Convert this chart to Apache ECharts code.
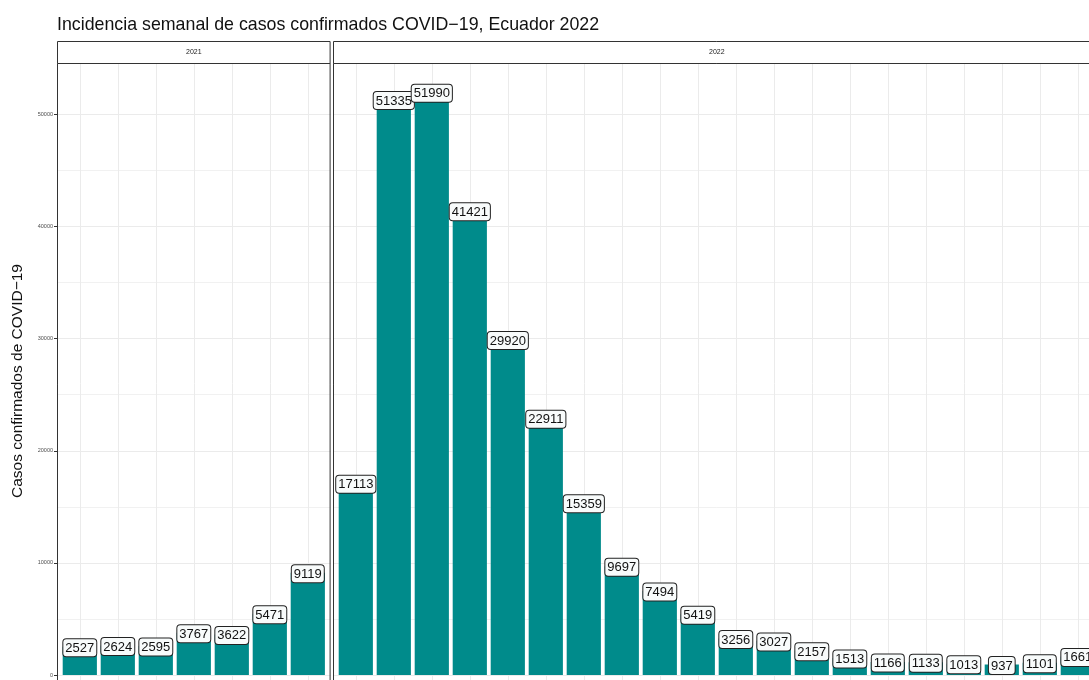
<!DOCTYPE html>
<html><head><meta charset="utf-8">
<script src="https://cdn.jsdelivr.net/npm/echarts@6/dist/echarts.min.js"></script>
<style>html,body{margin:0;padding:0;overflow:hidden;background:#fff}#c{width:1100px;height:710px}</style>
</head><body><div id="c"></div>
<script>
// ---- data ----
const chartTitle = 'Incidencia semanal de casos confirmados COVID\u221219, Ecuador 2022';
const yTitle = 'Casos confirmados de COVID\u221219';
const panelNames = ['2021', '2022'];
const weeks2021 = ['46', '47', '48', '49', '50', '51', '52'];
const cases2021 = [2527, 2624, 2595, 3767, 3622, 5471, 9119];
const weeks2022 = ['1', '2', '3', '4', '5', '6', '7', '8', '9', '10', '11', '12', '13', '14', '15', '16', '17', '18', '19', '20'];
const cases2022 = [17113, 51335, 51990, 41421, 29920, 22911, 15359, 9697, 7494, 5419, 3256, 3027, 2157, 1513, 1166, 1133, 1013, 937, 1101, 1661];
const yTicks = [0, 10000, 20000, 30000, 40000, 50000];

// ---- layout ----
const H = 710;
const U = 38;              // px per category unit
const TOP = 63;
const ZERO_Y = 675;
const maxVal = Math.max(...cases2021, ...cases2022);
const yMax = maxVal * 1.05;
const yMin = -maxVal * 0.05;
const pxPerVal = (ZERO_Y - TOP) / yMax;
const BOTTOM_Y = ZERO_Y - yMin * pxPerVal;
const p1 = { left: 57, width: (weeks2021.length + 0.2) * U };
const p2 = { left: 333, width: (weeks2022.length + 0.2) * U };
const grey = '#ebebeb';
const font = 'Liberation Sans, Arial, sans-serif';

const chart = echarts.init(document.getElementById('c'), null, { renderer: 'canvas' });

function fullGrid(p) {
  return { left: p.left, width: p.width, top: TOP, bottom: H - ZERO_Y, containLabel: false };
}
function barGrid(p, n) {
  return { left: p.left + 0.1 * U, width: n * U, top: TOP, bottom: H - BOTTOM_Y, containLabel: false };
}

const labelStyle = {
  show: true,
  position: 'top',
  distance: -9.5,
  fontFamily: font,
  fontSize: 13,
  color: '#111',
  backgroundColor: '#f8fbfb',
  borderColor: '#222',
  borderWidth: 1,
  borderRadius: 3,
  padding: [2, 2, 1, 2],
  lineHeight: 14
};

function majorY(gi, showLabels) {
  return {
    gridIndex: gi, type: 'value', min: 0, max: yMax, interval: 10000,
    axisLine: { show: false },
    axisTick: { show: showLabels, length: 3, customValues: yTicks, lineStyle: { color: '#333', width: 1 } },
    axisLabel: { show: showLabels, customValues: yTicks, margin: 4, fontSize: 5.5, color: '#4d4d4d', fontFamily: font,
      formatter: v => (v % 10000 === 0 ? String(v) : '') },
    splitLine: { show: true, lineStyle: { color: grey, width: 1 } }
  };
}
function minorY(gi) {
  return {
    gridIndex: gi, type: 'value', min: 0, max: yMax, interval: 5000, position: 'left',
    axisLine: { show: false }, axisTick: { show: false }, axisLabel: { show: false },
    splitLine: { show: true, lineStyle: { color: grey, width: 0.7 } }
  };
}
function hiddenY(gi) {
  return { gridIndex: gi, type: 'value', min: yMin, max: yMax, show: false, splitLine: { show: false } };
}
function catX(gi, cats) {
  return {
    gridIndex: gi, type: 'category', data: cats, boundaryGap: true,
    axisLine: { show: false }, axisTick: { show: false }, axisLabel: { show: false, interval: 0 },
    splitLine: { show: true, interval: 0, alignWithLabel: true, lineStyle: { color: grey, width: 1 } }
  };
}
function hiddenX(gi) {
  return { gridIndex: gi, type: 'value', min: 0, max: 1, show: false, splitLine: { show: false } };
}

function panelGraphics(p, name) {
  return [
    { type: 'rect', z: 100, shape: { x: p.left + 0.5, y: TOP + 0.5, width: p.width - 1, height: BOTTOM_Y - TOP },
      style: { fill: 'none', stroke: '#333', lineWidth: 1 } },
    { type: 'rect', z: 100, shape: { x: p.left + 0.5, y: 41.5, width: p.width - 1, height: TOP - 41 },
      style: { fill: '#fff', stroke: '#333', lineWidth: 1 } },
    { type: 'text', z: 101, x: p.left + p.width / 2, y: (41 + TOP) / 2 + 0.5,
      style: { text: name, fontSize: 7, fontFamily: font, fill: '#1a1a1a', align: 'center', verticalAlign: 'middle' } }
  ];
}

chart.setOption({
  animation: false,
  backgroundColor: '#fff',
  title: {
    text: chartTitle, left: 52, top: 11,
    textStyle: { fontFamily: font, fontSize: 17.8, fontWeight: 'normal', color: '#111' }
  },
  grid: [fullGrid(p1), barGrid(p1, weeks2021.length), fullGrid(p2), barGrid(p2, weeks2022.length)],
  xAxis: [hiddenX(0), catX(1, weeks2021), hiddenX(2), catX(3, weeks2022), hiddenX(0), hiddenX(2)],
  yAxis: [majorY(0, true), hiddenY(1), majorY(2, false), hiddenY(3), minorY(0), minorY(2)],
  series: [
    { type: 'bar', xAxisIndex: 1, yAxisIndex: 1, data: cases2021, barWidth: '90%', clip: false,
      itemStyle: { color: '#008B8B' }, label: labelStyle, z: 5 },
    { type: 'bar', xAxisIndex: 3, yAxisIndex: 3, data: cases2022, barWidth: '90%', clip: false,
      itemStyle: { color: '#008B8B' }, label: labelStyle, z: 5 }
  ],
  graphic: [
    ...panelGraphics(p1, panelNames[0]),
    ...panelGraphics(p2, panelNames[1]),
    { type: 'text', z: 101, x: 18, y: 381, rotation: Math.PI / 2,
      style: { text: yTitle, fontSize: 15.5, fontFamily: font, fill: '#111', align: 'center', verticalAlign: 'middle' } }
  ]
});
</script></body></html>
